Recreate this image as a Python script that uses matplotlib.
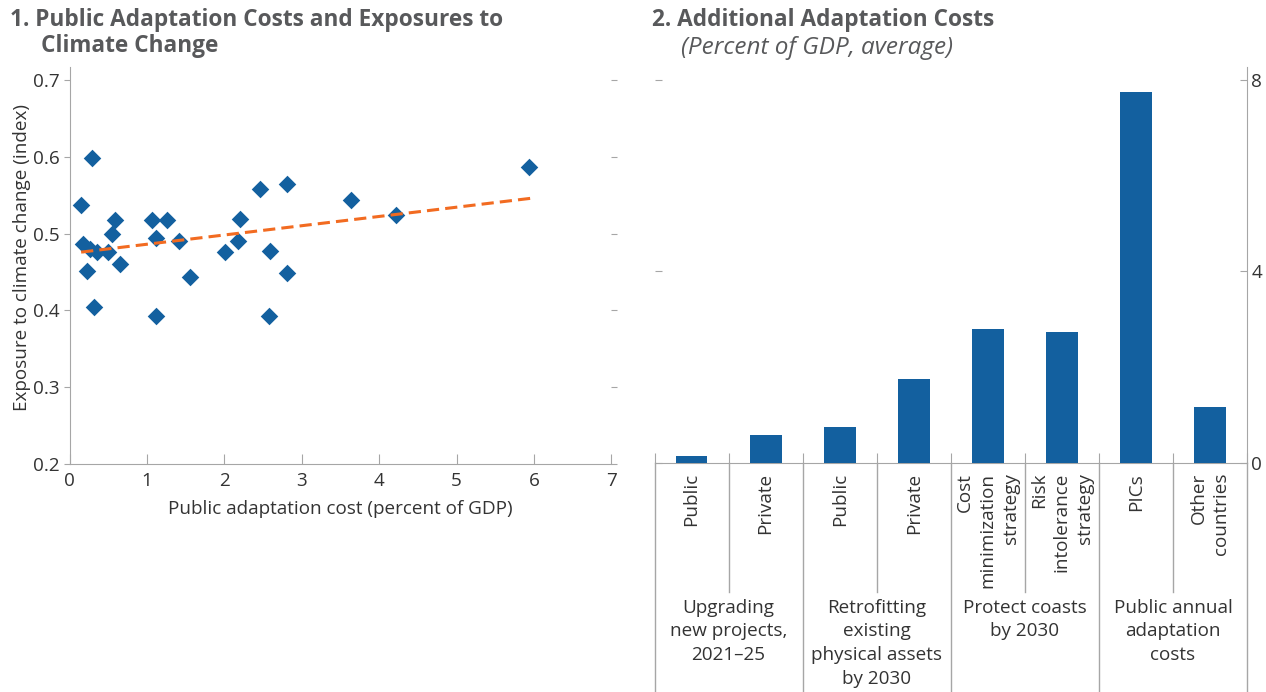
import matplotlib.pyplot as plt
from matplotlib.transforms import blended_transform_factory

plt.rcParams['font.family'] = ['Open Sans', 'DejaVu Sans']

# panel 1: scatter
cost_gdp = [0.15, 0.29, 0.18, 0.26, 0.36, 0.50, 0.55, 0.59, 0.65, 0.22, 0.32,
            1.07, 1.12, 1.26, 1.42, 1.55, 1.12, 2.01, 2.17, 2.20, 2.46, 2.59,
            2.58, 2.81, 2.81, 3.64, 4.22, 5.93]
exposure = [0.538, 0.598, 0.486, 0.480, 0.476, 0.476, 0.500, 0.518, 0.461, 0.452, 0.405,
            0.518, 0.495, 0.518, 0.491, 0.443, 0.393, 0.476, 0.490, 0.519, 0.558, 0.477,
            0.393, 0.565, 0.449, 0.544, 0.524, 0.587]
trend_x = [0.15, 5.95]
trend_y = [0.476, 0.546]

# panel 2: bars
bar_labels = ['Public', 'Private', 'Public', 'Private',
              'Cost\nminimization\nstrategy', 'Risk\nintolerance\nstrategy',
              'PICs', 'Other\ncountries']
bar_values = [0.15, 0.59, 0.76, 1.76, 2.80, 2.74, 7.76, 1.17]
group_labels = ['Upgrading\nnew projects,\n2021–25',
                'Retrofitting\nexisting\nphysical assets\nby 2030',
                'Protect coasts\nby 2030',
                'Public annual\nadaptation\ncosts']

blue = '#13609f'
orange = '#f26b21'
gray = '#a6a6a6'
text_col = '#333333'
title_col = '#58595b'
fs = 13.6

fig = plt.figure(figsize=(12.66, 6.92), dpi=100)

# ---- left panel
ax1 = fig.add_axes([0.0549, 0.3295, 0.4281, 0.5735])
ax1.scatter(cost_gdp, exposure, marker='D', s=80, color=blue, zorder=3, linewidths=0)
ax1.plot(trend_x, trend_y, linestyle='--', color=orange, linewidth=2.2, dashes=(4, 2), zorder=4)
ax1.set_xlim(0, 7)
ax1.set_ylim(0.2, 0.717)
ax1.set_xticks(range(0, 8))
ax1.set_yticks([0.2, 0.3, 0.4, 0.5, 0.6, 0.7])
ax1.set_yticklabels(['0.2', '0.3', '0.4', '0.5', '0.6', '0.7'])
for s in ['top', 'right']:
    ax1.spines[s].set_visible(False)
for s in ['left', 'bottom']:
    ax1.spines[s].set_color(gray)
ax1.tick_params(axis='x', direction='in', length=7, color=gray, labelsize=fs, labelcolor=text_col, pad=6)
ax1.tick_params(axis='y', direction='out', length=4, color=gray, labelsize=fs, labelcolor=text_col,
                right=True, pad=3)
ax1.set_xlabel('Public adaptation cost (percent of GDP)', fontsize=fs, color=text_col, labelpad=7)
ax1.set_ylabel('Exposure to climate change (index)', fontsize=fs, color=text_col)
ax1.yaxis.set_label_coords(-0.071, 0.52)

# ---- right panel
ax2 = fig.add_axes([0.517, 0.331, 0.468, 0.572])
xs = list(range(len(bar_values)))
ax2.bar(xs, bar_values, width=0.43, color=blue, zorder=3)
ax2.set_xlim(-0.5, 7.5)
ax2.set_ylim(0, 8.27)
ax2.set_yticks([0, 4, 8])
ax2.yaxis.tick_right()
ax2.tick_params(axis='y', direction='in', length=5, color=gray, labelsize=fs, labelcolor=text_col,
                left=True, right=True, pad=3)
ax2.set_xticks([x - 0.5 for x in range(9)])
ax2.set_xticklabels([])
ax2.tick_params(axis='x', direction='in', length=7, color=gray)
for s in ['top', 'left']:
    ax2.spines[s].set_visible(False)
for s in ['right', 'bottom']:
    ax2.spines[s].set_color(gray)

tr = blended_transform_factory(ax2.transData, ax2.transAxes)
for i, lab in enumerate(bar_labels):
    ax2.text(i, -0.025, lab, transform=tr, rotation=90, ha='center', va='top',
             multialignment='right', fontsize=fs, color=text_col, linespacing=1.35)
for i in [0.5, 2.5, 4.5, 6.5]:
    ax2.plot([i, i], [0, -0.326], transform=tr, color=gray, linewidth=1, clip_on=False)
for i in [-0.5, 1.5, 3.5, 5.5, 7.5]:
    ax2.plot([i, i], [0, -0.59], transform=tr, color=gray, linewidth=1, clip_on=False)
for g, lab in enumerate(group_labels):
    ax2.text(2 * g + 0.5, -0.343, lab, transform=tr, ha='center', va='top',
             fontsize=fs, color=text_col, linespacing=1.4)

# ---- titles
fig.text(0.008, 0.971, '1. Public Adaptation Costs and Exposures to', fontsize=16.3,
         fontweight='bold', color=title_col, va='center')
fig.text(0.032, 0.933, 'Climate Change', fontsize=16.3, fontweight='bold', color=title_col, va='center')
fig.text(0.515, 0.971, '2. Additional Adaptation Costs', fontsize=16.3,
         fontweight='bold', color=title_col, va='center')
fig.text(0.538, 0.931, '(Percent of GDP, average)', fontsize=17.5, fontstyle='italic',
         color=title_col, va='center')

fig.savefig('out.png', dpi=100)
